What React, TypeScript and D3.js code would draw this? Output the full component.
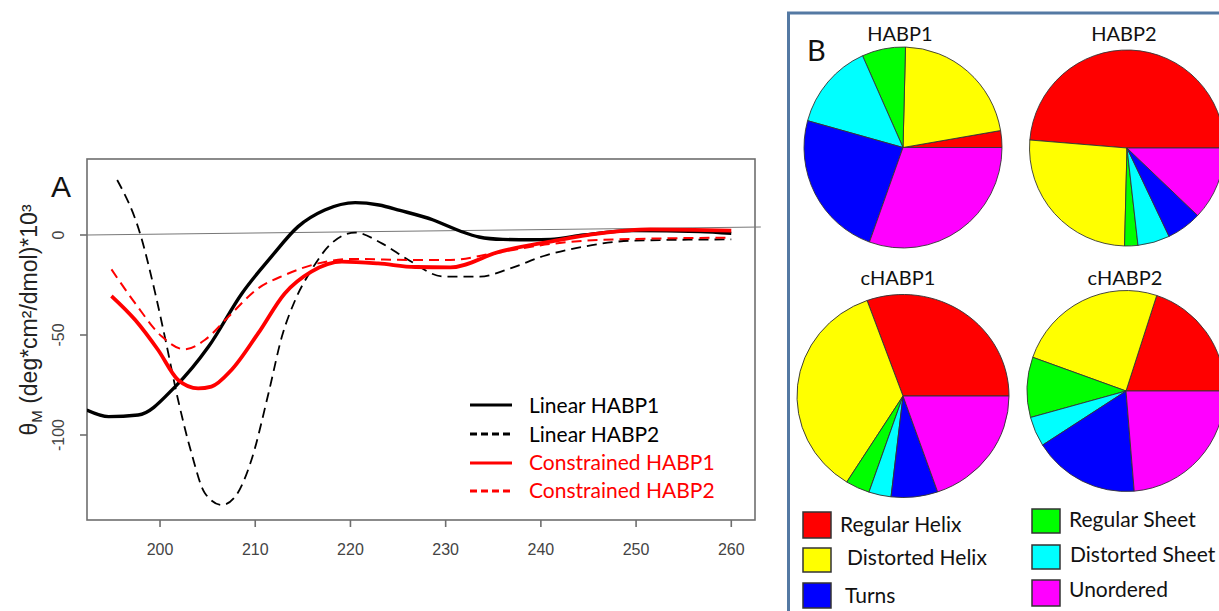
import React from "react";
import * as d3 from "d3";

// ---------- Panel A data (wavelength nm, theta x10^3) ----------
const nmLinear1 = [192.3, 194.6, 197.7, 201.6, 205.1, 208.6, 211.7, 214.5, 217.3, 220.5, 223.0, 225.2, 228.7, 231.5, 233.5, 236, 239, 241, 244.5, 249.7, 256.7, 260];
const valLinear1 = [-87.5, -90.8, -90, -75.8, -55.8, -29.2, -10.8, 4.2, 12.5, 16.2, 15, 12.3, 7.5, 2, -1, -2.2, -2.4, -2.2, 0, 2.2, 1.7, 0.8];

const nmLinear2 = [195.5, 197.9, 199.5, 200.5, 201.9, 203.3, 204.7, 206.5, 207.9, 209.6, 211.4, 212.8, 214.2, 215.9, 218.0, 220.5, 223.3, 226.1, 229.8, 233.6, 236.8, 240.3, 244.5, 249.7, 260];
const valLinear2 = [27.5, 0.8, -29.2, -50.8, -82.5, -109, -129, -135, -130.8, -112.5, -79, -50.8, -32.5, -17.5, -4.2, 1.2, -4.2, -12.5, -20.8, -20.8, -16.7, -10.5, -5.8, -2.8, -2.2];

const nmConstr1 = [194.9, 197.4, 199.8, 201.9, 204.0, 205.4, 207.5, 210.3, 213.1, 215.9, 219.1, 222.9, 226.8, 230.5, 235.7, 241, 246.2, 251.5, 260];
const valConstr1 = [-30.5, -42.5, -57.5, -72.5, -76.7, -75.8, -67.5, -49.2, -29.2, -18.3, -13.3, -14.2, -16, -16.2, -8.3, -3.3, 0.8, 2.8, 2.2];

const nmConstr2 = [194.9, 197.4, 200.2, 202.6, 204.7, 207.2, 210.3, 213.1, 216.6, 220.1, 226.8, 230.5, 235, 241, 246.2, 260];
const valConstr2 = [-17.2, -34.2, -50.8, -57.2, -52.5, -40.8, -26.7, -20, -14.2, -12, -12.5, -12.5, -9.2, -4.5, -2.5, -1.3];

const refLineNm = [192.33, 263.1];
const refLineVal = [0, 4];

const xTicks = [200, 210, 220, 230, 240, 250, 260];
const yTicks = [0, -50, -100];

const seriesNames = ["Linear HABP1", "Linear HABP2", "Constrained HABP1", "Constrained HABP2"];

// ---------- Panel B data (percent) ----------
const structureNames = ["Regular Helix", "Distorted Helix", "Regular Sheet", "Distorted Sheet", "Turns", "Unordered"];
const structureColors = ["#ff0000", "#ffff00", "#00ff00", "#00ffff", "#0000ff", "#ff00ff"];
const pieTitles = ["HABP1", "HABP2", "cHABP1", "cHABP2"];
const pieHABP1 = [2.7, 21.9, 7.1, 14.0, 23.8, 30.5];
const pieHABP2 = [48.7, 25.9, 2.2, 5.3, 5.8, 12.1];
const pieCHABP1 = [30.5, 35.6, 3.7, 3.4, 7.1, 19.7];
const pieCHABP2 = [20.0, 24.6, 9.7, 4.8, 17.3, 23.7];

export default function App() {
  const W = 1219, H = 611;
  const left = 87, right = 755, top = 159, bottom = 520;
  const x = d3.scaleLinear().domain([192.33, 262.49]).range([left, right]);
  const y = d3.scaleLinear().domain([-142.5, 38]).range([bottom, top]);

  const line = d3.line<[number, number]>()
    .x((d) => x(d[0]))
    .y((d) => y(d[1]))
    .curve(d3.curveMonotoneX);

  const zip = (a: number[], b: number[]) => a.map((v, i) => [v, b[i]] as [number, number]);

  const series = [
    { pts: zip(nmLinear1, valLinear1), color: "#000", width: 3.4, dash: null },
    { pts: zip(nmLinear2, valLinear2), color: "#000", width: 1.8, dash: "10,6" },
    { pts: zip(nmConstr1, valConstr1), color: "#ff0000", width: 3.8, dash: null },
    { pts: zip(nmConstr2, valConstr2), color: "#ff0000", width: 2.0, dash: "10,6" },
  ];

  const sansA = "'Liberation Sans', Arial, sans-serif";
  const sansB = "Lato, 'Open Sans', sans-serif";

  // pies (R-style: start at 3 o'clock, counter-clockwise)
  const pieGen = d3.pie<number>().sort(null).value((d) => d)
    .startAngle(Math.PI / 2).endAngle(Math.PI / 2 - 2 * Math.PI);
  const pies = [
    { vals: pieHABP1, cx: 903, cy: 147.5, rx: 99, ry: 100.5, tx: 900, ty: 41 },
    { vals: pieHABP2, cx: 1127, cy: 148, rx: 97.5, ry: 98, tx: 1124, ty: 41 },
    { vals: pieCHABP1, cx: 903, cy: 396, rx: 106, ry: 101.5, tx: 898, ty: 285 },
    { vals: pieCHABP2, cx: 1126, cy: 391, rx: 99, ry: 100.5, tx: 1125, ty: 285 },
  ];
  const R = 100;
  const arc = d3.arc<d3.PieArcDatum<number>>().innerRadius(0).outerRadius(R);

  const legendB = [
    { i: 0, sx: 803, sy: 512, sh: 26, tx: 840, ty: 532, label: structureNames[0] },
    { i: 1, sx: 803, sy: 548, sh: 24, tx: 847, ty: 565, label: structureNames[1] },
    { i: 4, sx: 803, sy: 583, sh: 25, tx: 845, ty: 603, label: structureNames[4] },
    { i: 2, sx: 1032, sy: 509, sh: 24, tx: 1069, ty: 527, label: structureNames[2] },
    { i: 3, sx: 1032, sy: 545, sh: 24, tx: 1070, ty: 562, label: structureNames[3] },
    { i: 5, sx: 1032, sy: 580, sh: 26, tx: 1069, ty: 597, label: structureNames[5] },
  ];

  const legendA = [
    { name: seriesNames[0], color: "#000", dash: null, ly: 405, ty: 413 },
    { name: seriesNames[1], color: "#000", dash: "7,4", ly: 434, ty: 442 },
    { name: seriesNames[2], color: "#ff0000", dash: null, ly: 463, ty: 470 },
    { name: seriesNames[3], color: "#ff0000", dash: "7,4", ly: 491, ty: 498 },
  ];

  return (
    <svg width={W} height={H} style={{ position: "absolute", left: 0, top: 0, background: "#fff" }}>
      <defs>
        <clipPath id="plotClip">
          <rect x={left} y={top} width={right - left} height={bottom - top} />
        </clipPath>
      </defs>

      {/* ---------- Panel A ---------- */}
      <rect x={left} y={top} width={right - left} height={bottom - top} fill="none" stroke="#6e6e6e" strokeWidth={1.6} />
      <line x1={x(refLineNm[0])} y1={y(refLineVal[0])} x2={x(refLineNm[1])} y2={y(refLineVal[1])} stroke="#777" strokeWidth={1} />

      {xTicks.map((t) => (
        <g key={"xt" + t}>
          <line x1={x(t)} x2={x(t)} y1={bottom} y2={bottom + 7} stroke="#6e6e6e" strokeWidth={1.6} />
          <text x={x(t)} y={555} textAnchor="middle" fontSize={16} fill="#444" fontFamily={sansA}>{t}</text>
        </g>
      ))}
      {yTicks.map((t) => (
        <g key={"yt" + t}>
          <line x1={left - 7} x2={left} y1={y(t)} y2={y(t)} stroke="#6e6e6e" strokeWidth={1.6} />
          <text transform={`translate(64,${y(t)}) rotate(-90)`} textAnchor="middle" fontSize={16} fill="#444" fontFamily={sansA}>{t}</text>
        </g>
      ))}

      <text transform="translate(37,320) rotate(-90)" textAnchor="middle" fontSize={23} fill="#222" fontFamily={sansA}>
        θ<tspan fontSize={15} dy={5}>M</tspan><tspan dy={-5}> (deg*cm²/dmol)*10³</tspan>
      </text>

      <text x={51} y={197} fontSize={30} fill="#111" fontFamily={sansA}>A</text>

      <g clipPath="url(#plotClip)">
        {series.map((s, i) => (
          <path key={"s" + i} d={line(s.pts) || ""} fill="none" stroke={s.color} strokeWidth={s.width}
            strokeDasharray={s.dash || undefined} strokeLinejoin="round" />
        ))}
      </g>

      {legendA.map((l, i) => (
        <g key={"la" + i}>
          <line x1={470} x2={512} y1={l.ly} y2={l.ly} stroke={l.color} strokeWidth={3} strokeDasharray={l.dash || undefined} />
          <text x={529} y={l.ty} fontSize={21} fill={l.color} fontFamily={sansB}>{l.name}</text>
        </g>
      ))}

      {/* ---------- Panel B ---------- */}
      <rect x={788.5} y={13} width={500} height={700} fill="none" stroke="#5479a3" strokeWidth={3} />
      <text x={807} y={61} fontSize={29} fill="#111" fontFamily={sansB}>B</text>

      {pies.map((p, pi) => (
        <g key={"pie" + pi}>
          <text x={p.tx} y={p.ty} textAnchor="middle" fontSize={20} fill="#111" fontFamily={sansB}>{pieTitles[pi]}</text>
          <g transform={`translate(${p.cx},${p.cy}) scale(${p.rx / R},${p.ry / R})`}>
            {pieGen(p.vals).map((a, ai) => (
              <path key={ai} d={arc(a) || ""} fill={structureColors[ai]} stroke="#333" strokeWidth={0.9} />
            ))}
          </g>
        </g>
      ))}

      {legendB.map((l, k) => (
        <g key={"lb" + k}>
          <rect x={l.sx} y={l.sy} width={28} height={l.sh} fill={structureColors[l.i]} stroke="#333" strokeWidth={1.5} />
          <text x={l.tx} y={l.ty} fontSize={21} fill="#111" fontFamily={sansB}>{l.label}</text>
        </g>
      ))}
    </svg>
  );
}
